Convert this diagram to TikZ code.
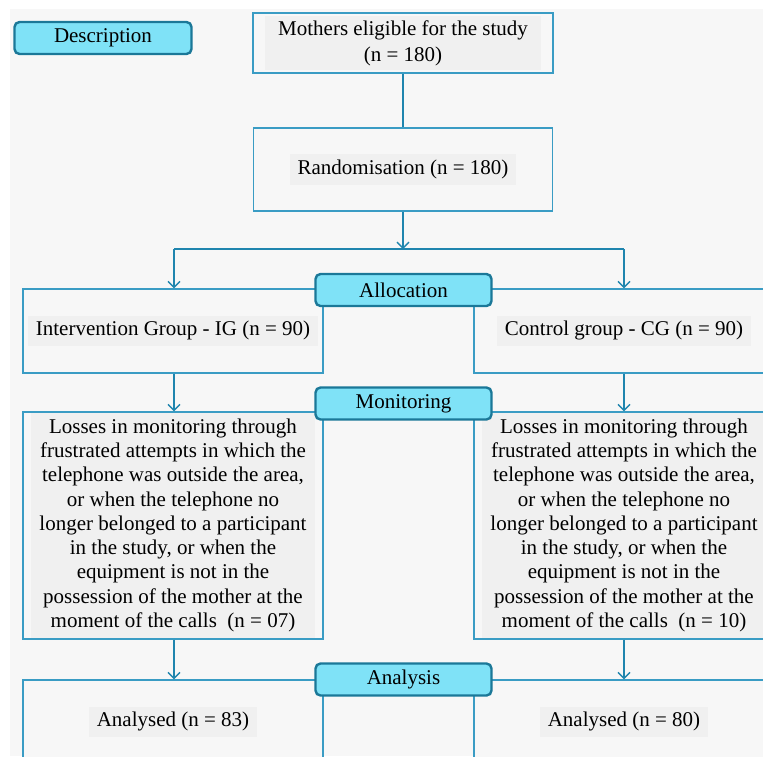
\documentclass[tikz,border=0pt]{standalone}
\usepackage{fontspec}
\setmainfont{Liberation Serif}
\usetikzlibrary{arrows.meta}
\definecolor{bgc}{HTML}{F7F7F7}
\definecolor{txtbg}{HTML}{F0F0F0}
\definecolor{boxc}{HTML}{3A9CC4}
\definecolor{arrc}{HTML}{1F85AE}
\definecolor{labfill}{HTML}{7FE2F7}
\definecolor{labline}{HTML}{1B7898}
\newcommand{\tbx}[1]{{\setlength{\fboxsep}{3pt}\colorbox{txtbg}{\begin{tabular}{@{\hspace{5pt}}c@{\hspace{5pt}}}#1\end{tabular}}}}
\newcommand{\tbxs}[1]{{\setlength{\fboxsep}{1pt}\colorbox{txtbg}{\begin{tabular}{@{\hspace{12pt}}c@{\hspace{12pt}}}#1\end{tabular}}}}
\begin{document}
\begin{tikzpicture}[x=1pt,y=-1pt,
  box/.style={draw=boxc, line width=1.4pt, fill=bgc, minimum width=300pt, inner sep=0pt,
    font=\fontsize{21}{24.3}\selectfont},
  lab/.style={draw=labline, line width=2.4pt, fill=labfill, rounded corners=5pt,
    minimum width=176pt, minimum height=32pt, inner sep=0pt, font=\fontsize{21}{24}\selectfont},
  arr/.style={draw=arrc, line width=1.4pt, -{Straight Barb[length=6pt,width=12pt]}},
  link/.style={draw=arrc, line width=1.4pt}
]
\useasboundingbox (0,0) rectangle (763,756);
\fill[bgc] (10,9) rectangle (763,756);

% boxes
\node[box, minimum height=60pt] (mothers) at (403,43)
  {{\fontsize{21}{26}\selectfont\tbxs{Mothers eligible for the study\\(n = 180)}}};
\node[box, minimum width=299pt, minimum height=83pt] (rand) at (403,169.5)
  {\tbx{Randomisation (n = 180)}};
\node[box, minimum height=84pt] (ig) at (173,331)
  {\tbx{Intervention Group - IG (n = 90)}};
\node[box, minimum height=84pt] (cg) at (624,331)
  {\tbx{Control group - CG (n = 90)}};
\node[box, minimum height=227pt] (lossl) at (173,525.5)
  {\tbx{Losses in monitoring through\\frustrated attempts in which the\\telephone was outside the area,\\or when the telephone no\\longer belonged to a participant\\in the study, or when the\\equipment is not in the\\possession of the mother at the\\moment of the calls\ \ (n = 07)}};
\node[box, minimum height=227pt] (lossr) at (624,525.5)
  {\tbx{Losses in monitoring through\\frustrated attempts in which the\\telephone was outside the area,\\or when the telephone no\\longer belonged to a participant\\in the study, or when the\\equipment is not in the\\possession of the mother at the\\moment of the calls\ \ (n = 10)}};
\node[box, minimum height=84pt] (anl) at (173,722)
  {\tbx{Analysed (n = 83)}};
\node[box, minimum height=84pt] (anr) at (624,722)
  {\tbx{Analysed (n = 80)}};

% connectors
\draw[draw=arrc, line width=2.4pt] (mothers) -- (rand);
\coordinate (j) at (403,249);
\coordinate (jl) at (174,249);
\coordinate (jr) at (624,249);
\draw[arr] (rand) -- (j);
\draw[link] (jl) -- (jr);
\draw[arr] (jl) -- (ig.north -| jl);
\draw[arr] (jr) -- (cg.north -| jr);
\draw[arr] (ig.south -| jl) -- (lossl.north -| jl);
\draw[arr] (cg) -- (lossr);
\draw[arr] (lossl.south -| jl) -- (anl.north -| jl);
\draw[arr] (lossr) -- (anr);

% labels
\node[lab, minimum width=177pt] (desc) at (103,38) {Description};
\node[lab] (alloc) at (403.5,290) {Allocation};
\node[lab] (monit) at (403.5,403.5) {Monitoring};
\node[lab] (analy) at (403.5,679.5) {Analysis};
\end{tikzpicture}
\end{document}
